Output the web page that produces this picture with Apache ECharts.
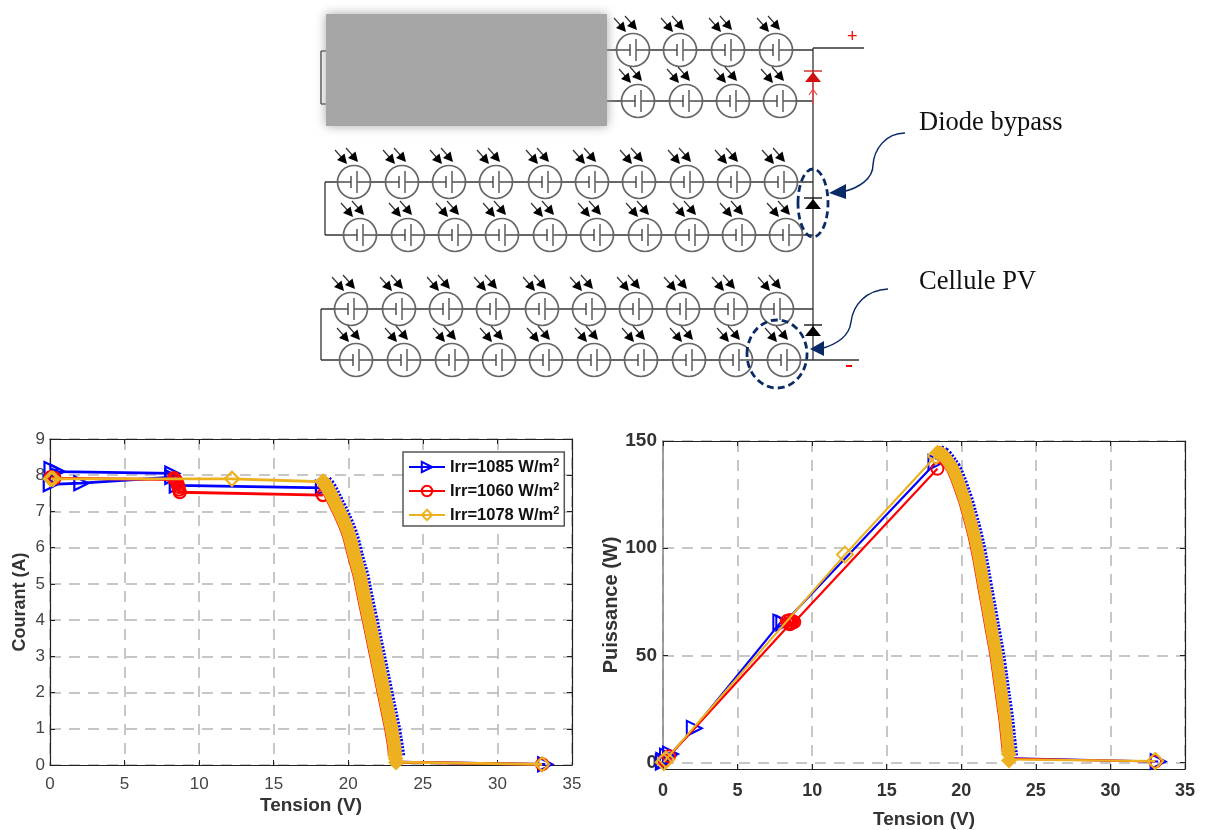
<!DOCTYPE html>
<html><head><meta charset="utf-8"><style>html,body{margin:0;padding:0;background:#fff}#c{width:1205px;height:830px}</style>
<script src="https://cdn.jsdelivr.net/npm/echarts@6/dist/echarts.min.js"></script></head>
<body><div id="c"></div><script>
const xTicks=[0,5,10,15,20,25,30,35];
const ivTicks=[0,1,2,3,4,5,6,7,8,9];
const pvTicks=[0,50,100,150];
const seriesNames=['Irr=1085 W/m2','Irr=1060 W/m2','Irr=1078 W/m2'];
// Courant-tension
const blueIvOpen=[[33.2,0.02],[23.45,0.08]];
const blueIvFlat=[[18.3,7.65],[8.5,7.72],[8.2,8.05],[0.5,8.1],[0.1,8.17],[0.05,7.75],[2.1,7.78],[8.2,7.95]];
const blueIvKnee=[[18.45,7.82],[18.65,7.72],[18.85,7.58],[19.05,7.42],[19.25,7.25],[19.55,7],[19.75,6.82],[20,6.58],[20.24,6.3],[20.4,6.05],[20.55,5.8],[20.75,5.5],[20.95,5.2],[21.1,4.88],[21.25,4.58],[21.4,4.28],[21.55,4],[21.7,3.7],[21.85,3.4],[22.05,3],[22.2,2.7],[22.35,2.4],[22.55,2],[22.7,1.7],[22.85,1.4],[23.05,1],[23.15,0.75],[23.25,0.5],[23.35,0.2]];
const redIvOpen=[[33,0.02],[23.2,0.08]];
const redIvFlat=[[18.3,7.45],[8.7,7.53],[8.65,7.6],[8.6,7.68],[8.55,7.75],[8.5,7.82],[8.4,7.88],[8.3,7.92],[0.3,7.92],[0.05,7.95]];
const redIvKnee=[[18.26,7.82],[18.46,7.72],[18.66,7.58],[18.86,7.42],[19.06,7.25],[19.36,7],[19.56,6.82],[19.81,6.58],[20.05,6.3],[20.21,6.05],[20.36,5.8],[20.56,5.5],[20.76,5.2],[20.91,4.88],[21.06,4.58],[21.21,4.28],[21.36,4],[21.51,3.7],[21.66,3.4],[21.86,3],[22.01,2.7],[22.16,2.4],[22.36,2],[22.51,1.7],[22.66,1.4],[22.86,1],[22.96,0.75],[23.06,0.5],[23.11,0.25]];
const yellowIvOpen=[[33,0.02],[23.2,0.08]];
const yellowIvFlat=[[18.3,7.82],[12.2,7.9],[0.2,7.9],[0.05,7.9]];
const yellowIvKnee=[[18.3,7.82],[18.5,7.72],[18.7,7.58],[18.9,7.42],[19.1,7.25],[19.4,7],[19.6,6.82],[19.85,6.58],[20.09,6.3],[20.25,6.05],[20.4,5.8],[20.6,5.5],[20.8,5.2],[20.95,4.88],[21.1,4.58],[21.25,4.28],[21.4,4],[21.55,3.7],[21.7,3.4],[21.9,3],[22.05,2.7],[22.2,2.4],[22.4,2],[22.55,1.7],[22.7,1.4],[22.9,1],[23,0.75],[23.1,0.5],[23.15,0.25]];
const yellowIvTips=[[18.35,7.82],[23.13,0.3],[23.17,0.18],[23.2,0.07]];
// Puissance-tension
const bluePvOpen=[[33.2,0.5],[23.4,2]];
const bluePvFlat=[[18.3,140],[8.1,65],[7.9,65.5],[2.1,16],[0.5,4],[0.3,3],[0.05,1],[0.02,0.2]];
const bluePvKnee=[[18.55,145],[18.85,144],[19.1,142],[19.35,139.5],[19.55,137.5],[19.75,134.5],[19.95,131],[20.2,126],[20.4,122],[20.6,117],[20.8,112],[20.95,108],[21.15,102],[21.35,95],[21.53,88],[21.73,80],[21.94,72],[22.14,64],[22.35,56],[22.5,50],[22.7,40],[22.9,30],[23.1,20],[23.22,12],[23.36,3]];
const redPvOpen=[[33,0.5],[23.2,1.8]];
const redPvFlat=[[18.4,137],[8.8,65.5],[8.7,66],[8.6,65],[8.5,66.5],[8.4,65],[8.3,66],[8.5,64.5],[0.4,3],[0.1,1]];
const redPvKnee=[[18.36,145],[18.66,144],[18.91,142],[19.16,139.5],[19.36,137.5],[19.56,134.5],[19.76,131],[20.01,126],[20.21,122],[20.41,117],[20.61,112],[20.76,108],[20.96,102],[21.16,95],[21.34,88],[21.54,80],[21.75,72],[21.95,64],[22.16,56],[22.31,50],[22.51,40],[22.71,30],[22.91,20],[23.03,12],[23.13,5]];
const yellowPvOpen=[[33,0.7],[23.2,1.5]];
const yellowPvFlat=[[18.3,143],[12.2,97],[0.2,1.5],[0.05,0.2]];
const yellowPvKnee=[[18.4,145],[18.7,144],[18.95,142],[19.2,139.5],[19.4,137.5],[19.6,134.5],[19.8,131],[20.05,126],[20.25,122],[20.45,117],[20.65,112],[20.8,108],[21,102],[21.2,95],[21.38,88],[21.58,80],[21.79,72],[21.99,64],[22.2,56],[22.35,50],[22.55,40],[22.75,30],[22.95,20],[23.07,12],[23.17,5]];
const yellowPvTips=[[18.4,144.5],[23.15,6],[23.18,4],[23.2,1]];

const BLUE='#0000ff',RED='#ff0000',YEL='#edb120';
function buildSeries(g,open,flat,knee,tips,o){
 const styles=[{c:BLUE,s:'triangle',r:-90,z:o.bz},{c:RED,s:'circle',r:0,z:o.rz},{c:YEL,s:'diamond',r:0,z:o.yz}];
 const out=[];
 styles.forEach((st,i)=>{
  const openPts=open[i].map((p,j)=>j===1?{value:p,symbol:'none'}:p);
  out.push({name:seriesNames[i],type:'line',xAxisIndex:g,yAxisIndex:g,clip:false,animation:false,
   data:openPts.concat([['-','-']],flat[i]),symbol:st.s,symbolRotate:st.r,symbolSize:st.z,showAllSymbol:true,
   lineStyle:{color:st.c,width:o.lw},itemStyle:{color:'rgba(255,255,255,0)',borderColor:st.c,borderWidth:o.mw},z:3+i*2});
  out.push({name:'k'+g+i,type:'line',xAxisIndex:g,yAxisIndex:g,clip:false,animation:false,smooth:0.3,
   data:knee[i],symbol:'none',lineStyle:i===0?{color:st.c,width:o.band+1,type:[2,1.5]}:{color:st.c,width:o.band,join:'round'},z:4+i*2});
 });
 out.push({name:'t'+g,type:'line',xAxisIndex:g,yAxisIndex:g,clip:false,animation:false,data:tips,symbol:'diamond',symbolSize:o.tip,showAllSymbol:true,
   lineStyle:{width:0,opacity:0},itemStyle:{color:YEL},z:9});
 return out;
}
function axis(g,main,o){
 const a={type:'value',gridIndex:g,min:o.min,max:o.max,position:o.pos,
  axisLine:{show:true,onZero:false,lineStyle:{color:o.ac||'#222',width:o.ac?1.6:1.2}},
  axisTick:{show:true,inside:true,length:5,customValues:o.ticks,lineStyle:{color:'#222',width:1}},
  axisLabel:{show:main,customValues:o.ticks,margin:o.lm,color:o.lc,fontFamily:'Liberation Sans',fontSize:o.lf,fontWeight:o.lw},
  splitLine:{show:main,lineStyle:{color:'#b5b5b5',width:1.5,type:[11,8]}},z:2};
 if(main){a.name=o.name;a.nameLocation='middle';a.nameGap=o.ng;
  a.nameTextStyle={color:o.nc||'#333',fontFamily:'Liberation Sans',fontSize:o.nf,fontWeight:'bold'};}
 return a;
}
// ---- circuit sketch ----
const graphics=[];
const WIRE='#333',CELL='#666',NAVY='#0a2a66';
function ln(x1,y1,x2,y2,c,w){graphics.push({type:'line',shape:{x1,y1,x2,y2},style:{stroke:c||WIRE,lineWidth:w||1.3}});}
function arrow(x,y){
 ln(x,y,x+8,y+9,'#333',1.2);
 graphics.push({type:'polygon',shape:{points:[[x+12,y+14],[x+2,y+10],[x+9.5,y+3.5]]},style:{fill:'#000'}});
}
function cell(cx,cy){
 graphics.push({type:'circle',shape:{cx,cy,r:16.5},style:{fill:'#fff',stroke:CELL,lineWidth:1.7}});
 ln(cx-16,cy,cx-3,cy);ln(cx+3,cy,cx+16,cy);
 ln(cx-3,cy-6,cx-3,cy+6,'#444',1.4);ln(cx+3,cy-11,cx+3,cy+11,'#666',1.6);
 arrow(cx-19,cy-32);arrow(cx-8,cy-34);
}
function row(xs,y,x0,x1){ln(x0,y,x1,y);xs.forEach(x=>cell(x,y));}
function diode(x,y,c){
 ln(x-9,y,x+9,y,c,1.3);
 graphics.push({type:'polygon',shape:{points:[[x,y+1],[x-8,y+11],[x+8,y+11]]},style:{fill:c}});
}
function curve(x1,y1,cpx1,cpy1,cpx2,cpy2,x2,y2){
 graphics.push({type:'bezierCurve',shape:{x1,y1,cpx1,cpy1,cpx2,cpy2,x2,y2},style:{stroke:NAVY,lineWidth:1.5,fill:'none'}});
}
function dashedEllipse(cx,cy,rx,ry){
 graphics.push({type:'ellipse',shape:{cx,cy,rx,ry},style:{stroke:NAVY,lineWidth:2.8,fill:'none',lineDash:[7,4]}});
}
ln(813,48,813,360);
row([633,680,728,776],50,600,813);ln(813,48,864,48);
row([638,686,733,780],101,600,813);
row([354,402,449,496,545,592,639,687,734,781],182,325,813);
row([360,408,455,502,550,597,645,692,739,786],235,325,813);
ln(325,182,325,235);
row([351,399,446,493,542,589,636,683,731,777],309,321,813);
row([356,404,452,499,546,594,641,689,736,784],360,321,859);
ln(321,309,321,360);
ln(321,51,321,104);ln(321,51,330,51);ln(321,104,330,104);
graphics.push({type:'rect',shape:{x:326,y:14,width:281,height:112},style:{fill:'#a6a6a6',shadowBlur:10,shadowColor:'#a6a6a6'}});
diode(813,71,'#d01010');
ln(813,82,813,104,'#ff4040',1.2);ln(809,95,813,89,'#ff4040',1.2);ln(817,95,813,89,'#ff4040',1.2);
diode(813,198,'#000');diode(813,325,'#000');
dashedEllipse(813,203,15,34);
dashedEllipse(777,354,30,34);
curve(905,133,885,133,874,150,873,165);
curve(873,165,873,178,860,188,842,192);
graphics.push({type:'polygon',shape:{points:[[829,193],[846,184],[846,199]]},style:{fill:NAVY}});
curve(888,289,866,290,853,305,851,322);
curve(851,322,849,338,835,345,820,349);
graphics.push({type:'polygon',shape:{points:[[810,349],[824,341],[824,356]]},style:{fill:NAVY}});
function txt(x,y,text,size,fam,col){graphics.push({type:'text',x,y,style:{text,fontSize:size,fontFamily:fam,fill:col,verticalAlign:'middle'}});}
txt(919,123,'Diode bypass',26.5,'Liberation Serif','#111');
txt(919,282,'Cellule PV',26.5,'Liberation Serif','#111');
txt(847,37,'+',18,'Liberation Sans','#f00');
ln(846,366,852,366,'#f00',2);

const option={
 backgroundColor:'#fff',animation:false,
 grid:[{left:50,top:439,width:522,height:326},{left:663,top:441,width:522,height:330}],
 xAxis:[
  axis(0,true,{min:0,max:35,pos:'bottom',ticks:xTicks,lm:11,lc:'#444',lf:17,lw:'normal',name:'Tension (V)',ng:31,nf:19}),
  axis(1,true,{min:0,max:35,pos:'bottom',ticks:xTicks,lm:13,lc:'#333',lf:18,lw:'bold',name:'Tension (V)',ng:41,nf:19}),
  axis(0,false,{min:0,max:35,pos:'top',ticks:xTicks}),
  axis(1,false,{min:0,max:35,pos:'top',ticks:xTicks})],
 yAxis:[
  axis(0,true,{min:0,max:9,pos:'left',ticks:ivTicks,lm:5,lc:'#444',lf:17,lw:'normal',name:'Courant (A)',ng:21,nf:18}),
  axis(1,true,{min:-3,max:150,pos:'left',ticks:pvTicks,lm:6,lc:'#333',lf:19,lw:'bold',name:'Puissance (W)',ng:41,nf:20,ac:'#888'}),
  axis(0,false,{min:0,max:9,pos:'right',ticks:ivTicks}),
  axis(1,false,{min:-3,max:150,pos:'right',ticks:pvTicks})],
 legend:{show:true,left:403,top:452,z:50,orient:'vertical',data:seriesNames,backgroundColor:'#fff',borderColor:'#555',borderWidth:1.5,
  padding:[5,5,1,5],itemGap:4,itemWidth:36,itemHeight:13,
  textStyle:{fontFamily:'Liberation Sans',fontSize:16.5,fontWeight:'bold',color:'#111',lineHeight:20,
   rich:{b:{fontFamily:'Liberation Sans',fontSize:16.5,fontWeight:'bold',color:'#111'},s:{fontFamily:'Liberation Sans',fontSize:11,fontWeight:'bold',color:'#111',verticalAlign:'top',padding:[0,0,6,0]}}},
  formatter:n=>'{b|'+n.slice(0,-1)+'}{s|2}'},
 series:buildSeries(0,[blueIvOpen,redIvOpen,yellowIvOpen],[blueIvFlat,redIvFlat,yellowIvFlat],[blueIvKnee,redIvKnee,yellowIvKnee],yellowIvTips,{lw:2.8,mw:2.2,bz:14,rz:12,yz:14,band:13.5,tip:16})
  .concat(buildSeries(1,[bluePvOpen,redPvOpen,yellowPvOpen],[bluePvFlat,redPvFlat,yellowPvFlat],[bluePvKnee,redPvKnee,yellowPvKnee],yellowPvTips,{lw:2.2,mw:2,bz:15,rz:12,yz:16,band:12.5,tip:16})),
 graphic:{elements:graphics.map(g=>Object.assign({silent:true},g))}
};
echarts.init(document.getElementById('c'),null,{renderer:'canvas'}).setOption(option);
</script></body></html>
